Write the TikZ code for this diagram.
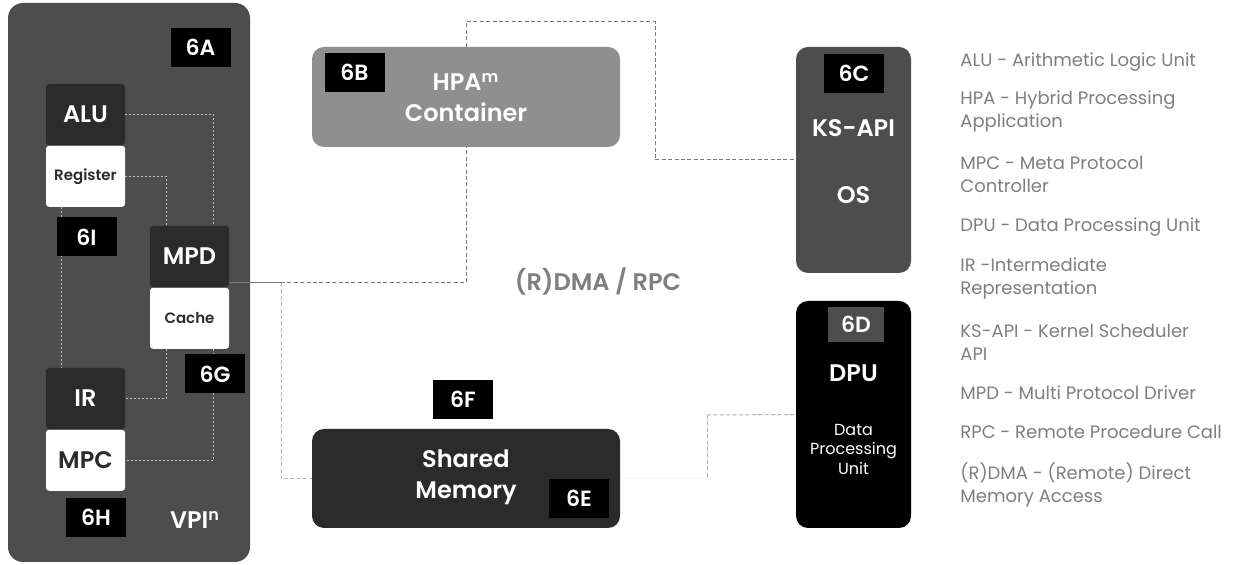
\documentclass[tikz,border=0pt]{standalone}
\usepackage{fontspec}
\setmainfont{Poppins}
\newfontfamily\semibf{Poppins SemiBold}
\usetikzlibrary{positioning,calc}
\definecolor{vpigray}{HTML}{4D4D4D}
\definecolor{unitdark}{HTML}{2B2B2B}
\definecolor{hpagray}{HTML}{8F8F8F}
\definecolor{leggray}{HTML}{7F7F7F}
\definecolor{dotgray}{HTML}{BDBDBD}
\definecolor{dashgray}{HTML}{7A7A7A}
\definecolor{palegray}{HTML}{B5B5B5}
\tikzset{
    big/.style =    {text=white,
                    font=\semibf\fontsize{12}{15.5}\selectfont,
                    align=center,
                    inner sep=0pt},
    unit/.style =   {rectangle,
                    rounded corners=1.5pt,
                    fill=unitdark,
                    text=white,
                    minimum width=39.5pt,
                    minimum height=30.5pt,
                    inner sep=0pt,
                    font=\semibf\fontsize{12}{14}\selectfont},
    store/.style =  {unit,
                    fill=white,
                    text=unitdark,
                    font=\semibf\fontsize{7.5}{9}\selectfont},
    tag/.style =    {rectangle,
                    fill=black,
                    text=white,
                    minimum width=30pt,
                    minimum height=19.5pt,
                    inner sep=0pt,
                    font=\semibf\fontsize{11}{13}\selectfont},
    panel/.style =  {rectangle,
                    rounded corners=6pt,
                    minimum width=154pt,
                    minimum height=50pt,
                    inner sep=0pt},
    tower/.style =  {rectangle,
                    rounded corners=6pt,
                    minimum width=57.5pt,
                    minimum height=113pt,
                    inner sep=0pt},
    legend/.style = {anchor=west,
                    align=left,
                    text=leggray,
                    inner sep=0pt,
                    font=\fontsize{9}{11.5}\selectfont},
    inner/.style =  {draw=dotgray,
                    line width=0.5pt,
                    dash pattern=on 1pt off 1pt},
    link/.style =   {draw=dashgray,
                    line width=0.5pt,
                    dash pattern=on 2pt off 1.2pt}}

\begin{document}
\begin{tikzpicture}[x=0.5pt,y=-0.5pt]
    \fill[white] (0,0) rectangle (1241,565);
    \useasboundingbox (0,0) rectangle (1241,565);

    \node[rectangle, rounded corners=7.5pt, fill=vpigray, minimum width=121pt, minimum height=279.5pt] (vpi) at (129,282.5) {};
    \node[big]              (vpin)  at (195,520)        {VPI\textsuperscript{n}};

    \node[unit]             (alu)   at (85.5,114.5)     {ALU};
    \node[store]            (reg)   [below=0pt of alu]  {Register};
    \node[unit]             (mpd)   at (189.5,256.5)    {MPD};
    \node[store]            (cache) [below=0pt of mpd]  {Cache};
    \node[unit]             (ir)    at (85.5,398.5)     {IR};
    \node[store, font=\semibf\fontsize{12}{14}\selectfont] (mpc) [below=0pt of ir] {MPC};

    \draw[inner] (alu.east) -| ([xshift=-8pt]mpd.north east);
    \draw[inner] (reg.east) -| ([xshift=8.5pt]mpd.north west);
    \draw[inner] ([xshift=8pt]reg.south west) -- ([xshift=8pt]ir.north west);
    \draw[inner] ([xshift=8.5pt]cache.south west) |- (ir.east);
    \draw[inner] ([xshift=-8pt]cache.south east) |- (mpc.east);

    \node[tag]              (t6a)   at (200.5,47.5)     {6A};
    \node[tag]              (t6i)   at (86.5,237)       {6I};
    \node[tag]              (t6g)   at (215,374)        {6G};
    \node[tag]              (t6h)   at (96,517.5)       {6H};

    \node[panel, fill=hpagray]  (hpa) at (466,97)       {};
    \node[big]              (hpatxt) at (466,97.5)      {HPA\textsuperscript{m}\\Container};
    \node[tag]              (t6b)   at (354.5,72.5)     {6B};

    \node[panel, fill=unitdark, minimum height=49.5pt] (shm) at (466,478.5) {};
    \node[big]              (shmtxt) at (466,477)       {Shared\\Memory};
    \node[tag]              (t6f)   at (463,399.5)      {6F};
    \node[tag]              (t6e)   at (579,498.5)      {6E};

    \node[tower, fill=vpigray] (ks) at (853.5,160)      {};
    \node[tag]              (t6c)   at (854,73.5)       {6C};
    \node[big]              (ksapi) at (853.5,128)      {KS-API};
    \node[big]              (os)    at (853.5,195)      {OS};

    \node[tower, fill=black, minimum height=113.5pt] (dpu) at (853.5,414.5) {};
    \node[tag, fill=vpigray, minimum width=28pt, minimum height=17.5pt] (t6d) at (856,324.5) {6D};
    \node[big]              (dputxt) at (853.5,373)     {DPU};
    \node[align=center, text=white, inner sep=0pt, font=\fontsize{8}{9.75}\selectfont] (dpusub) at (853.5,449) {Data\\Processing\\Unit};

    \node[big, text=leggray] (rdma) at (598,282)        {(R)DMA / RPC};

    \coordinate (mpdout) at (229,283);
    \coordinate (j1) at (281,283);
    \coordinate (j2) at (655,22);
    \coordinate (j3) at (707,415);
    \draw[draw=dashgray, line width=0.5pt] (mpdout) -- (j1);
    \draw[link] (j1) -| (hpa.south);
    \draw[link, draw=palegray] (j1) |- (shm.west);
    \draw[link] (hpa.north) |- (j2) |- (ks.west);
    \draw[draw=black!6, line width=0.5pt] (shm.east) -| (j3);
    \draw[link, draw=palegray] (j3) -- (dpu.west);
    \draw[link, draw=palegray] (j3) -- ++(0,63);

    \node[legend] (leg1) at (960,62)    {ALU - Arithmetic Logic Unit};
    \node[legend] (leg2) at (960,111.5) {HPA - Hybrid Processing\\Application};
    \node[legend] (leg3) at (960,174.5) {MPC - Meta Protocol\\Controller};
    \node[legend] (leg4) at (960,227)   {DPU - Data Processing Unit};
    \node[legend] (leg5) at (960,278)   {IR -Intermediate\\Representation};
    \node[legend] (leg6) at (960,342)   {KS-API - Kernel Scheduler\\API};
    \node[legend] (leg7) at (960,393)   {MPD - Multi Protocol Driver};
    \node[legend] (leg8) at (960,432)   {RPC - Remote Procedure Call};
    \node[legend] (leg9) at (960,485)   {(R)DMA - (Remote) Direct\\Memory Access};
\end{tikzpicture}
\end{document}
